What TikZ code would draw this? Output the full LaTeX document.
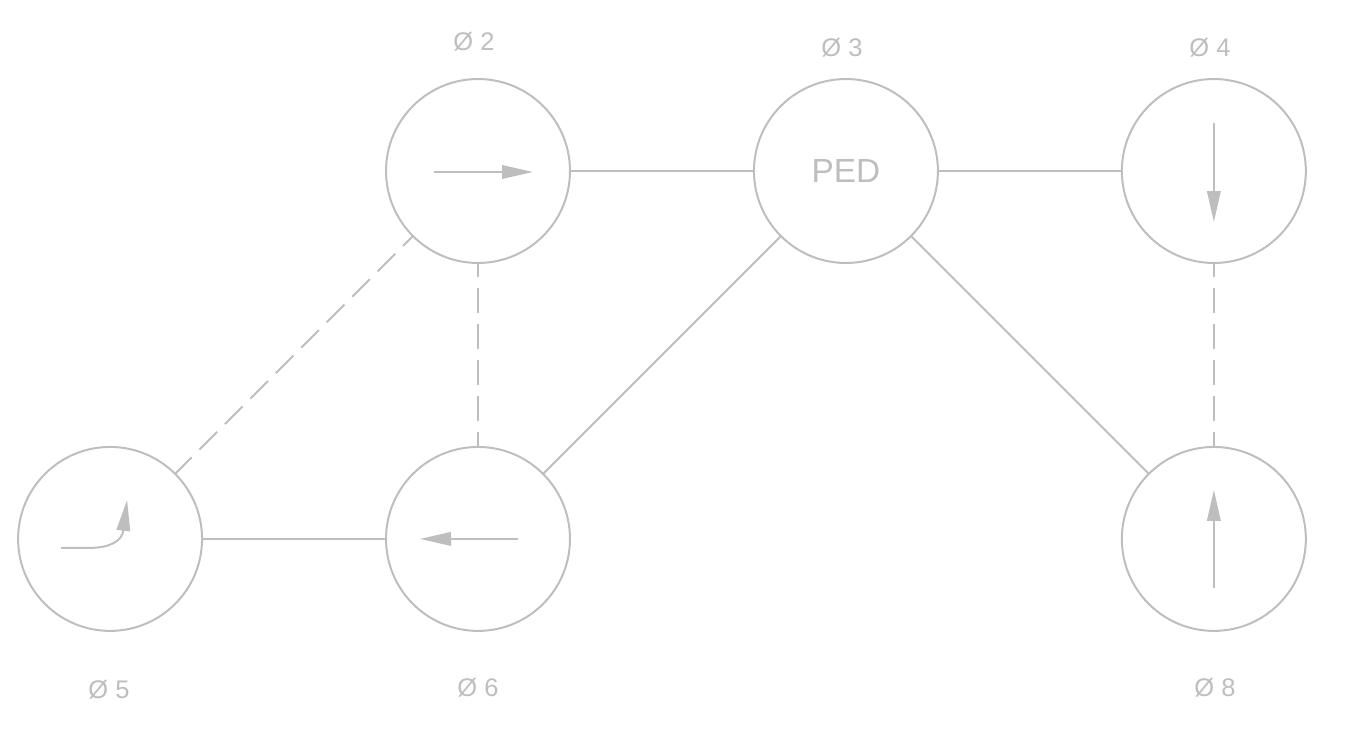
\documentclass[tikz,border=0pt]{standalone}
\usepackage{fontspec}
\setmainfont{Liberation Sans}
\usetikzlibrary{positioning, calc, arrows.meta}
\definecolor{wire}{RGB}{190,190,190}

\begin{document}
\begin{tikzpicture}[
    x=0.02cm, y=-0.02cm,
    node distance=3.68cm,
    station/.style={draw=wire, circle, line width=0.04cm, minimum size=3.68cm, inner sep=0pt, outer sep=0pt, text=wire, font=\fontsize{19}{21}\selectfont},
    tag/.style={text=wire, font=\fontsize{14.5}{17}\selectfont},
    link/.style={draw=wire, line width=0.04cm},
    dashlink/.style={link, dash pattern=on 0.5cm off 0.22cm, dash phase=0.22cm},
    flow/.style={draw=wire, fill=wire, line width=0.04cm, -{Triangle[length=0.62cm, width=0.27cm]}},
]
\useasboundingbox (0,0) rectangle (1348,739);

% Stations, top row
\node[station] (n2) at (478,171) {};
\node[station, right=of n2] (n3) {PED};
\node[station, right=of n3] (n4) {};

% Stations, bottom row
\node[station, below=of n2] (n6) {};
\node[station, left=of n6] (n5) {};
\node[station, below=of n4] (n8) {};

% Diameter tags
\node[tag] (t2) at (474,42) {Ø 2};
\node[tag] (t3) at (842,48) {Ø 3};
\node[tag] (t4) at (1210,48) {Ø 4};
\node[tag] (t5) at (109,690) {Ø 5};
\node[tag] (t6) at (478,688) {Ø 6};
\node[tag] (t8) at (1215,688) {Ø 8};

% Solid links
\draw[link] (n2) -- (n3);
\draw[link] (n3) -- (n4);
\draw[link] (n3) -- (n6);
\draw[link] (n3) -- (n8);
\draw[link] (n5) -- (n6);

% Dashed links
\draw[dashlink] (n2) -- (n6);
\draw[dashlink] (n2) -- (n5);
\draw[dashlink] (n4) -- (n8);

% Direction arrows inside the stations
\draw[flow] ($(n2)+(-44,1)$) -- ($(n2)+(55,1)$);
\draw[flow] ($(n4)+(0,-48)$) -- ($(n4)+(0,51)$);
\draw[flow] ($(n6)+(40,0)$) -- ($(n6)+(-58,0)$);
\draw[flow] ($(n8)+(0,49)$) -- ($(n8)+(0,-49)$);
\draw[flow, fill=none] ($(n5)+(-49,9)$) -- ($(n5)+(-21,9)$)
    .. controls ($(n5)+(0,9)$) and ($(n5)+(12,2)$) .. ($(n5)+(17,-39)$);

\end{tikzpicture}
\end{document}
